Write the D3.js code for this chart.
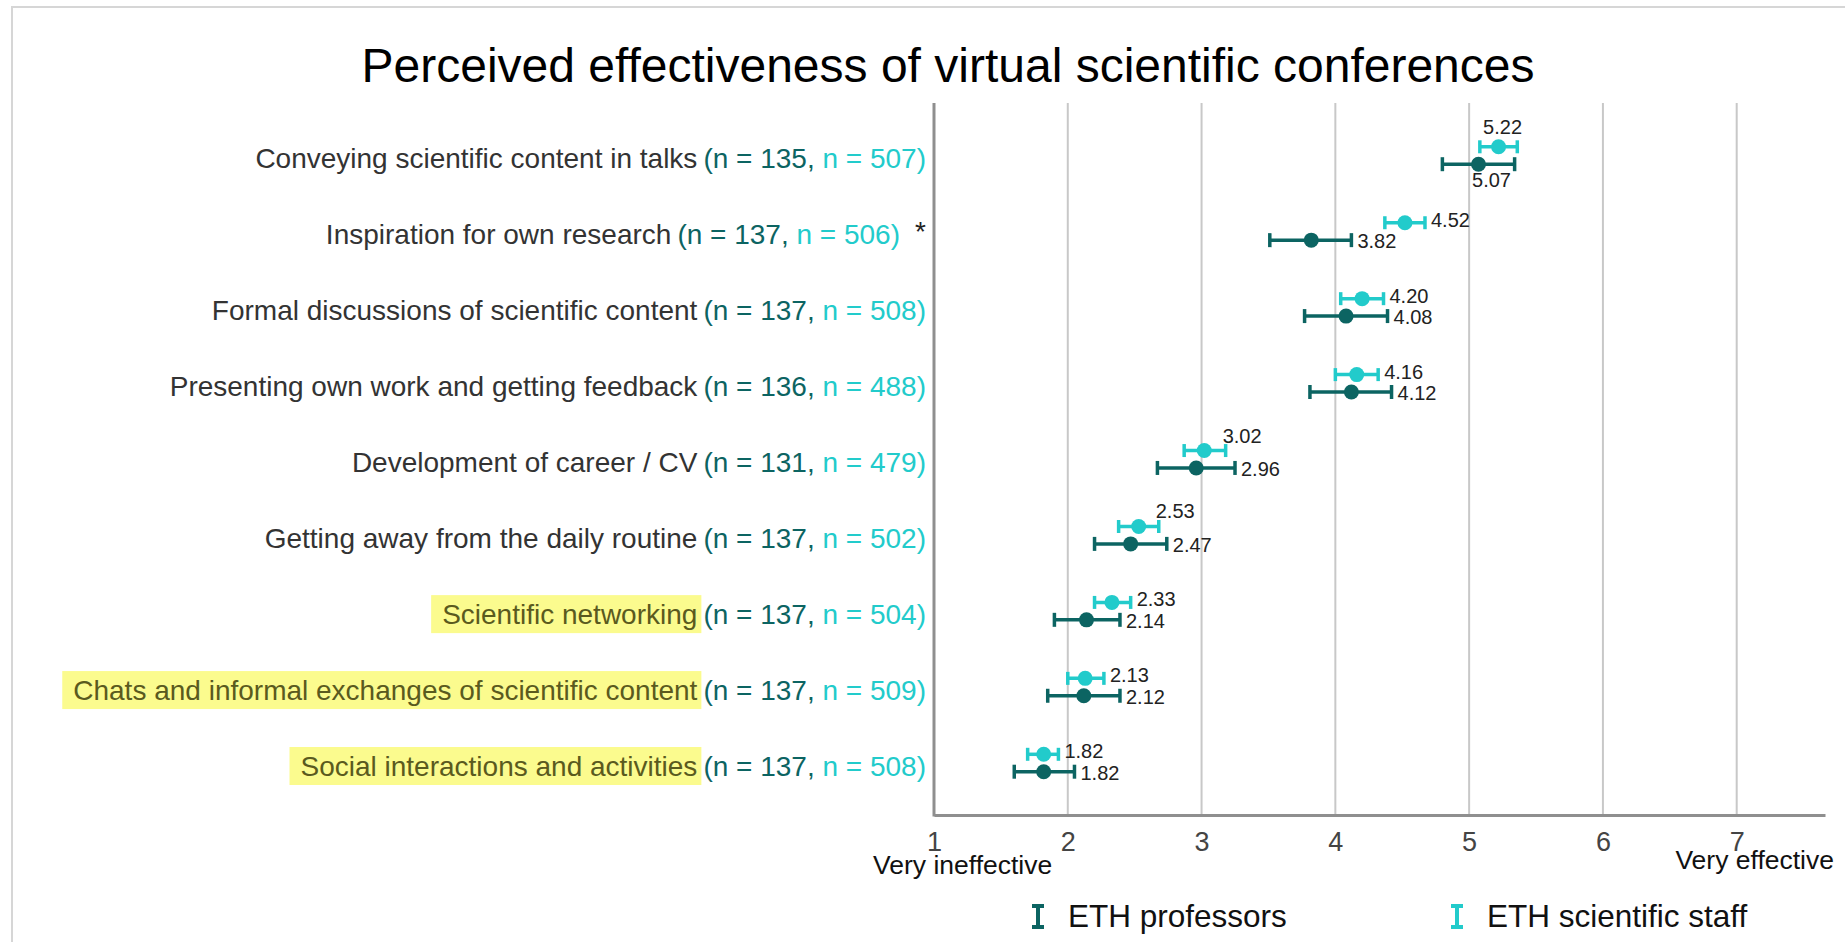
<!DOCTYPE html>
<html>
<head>
  <title>Perceived effectiveness of virtual scientific conferences</title>
  <script src="https://d3js.org/d3.v7.min.js"></script>
  <style>
    body { margin: 0; background: #fff; }
    text { font-family: "Liberation Sans", Arial, sans-serif; }
  </style>
</head>
<body>

<div id="chart"></div>

<script>
// Data
const categories = [
  "Conveying scientific content in talks",
  "Inspiration for own research",
  "Formal discussions of scientific content",
  "Presenting own work and getting feedback",
  "Development of career / CV",
  "Getting away from the daily routine",
  "Scientific networking",
  "Chats and informal exchanges of scientific content",
  "Social interactions and activities"
];
const nProf  = [135, 137, 137, 136, 131, 137, 137, 137, 137];
const nStaff = [507, 506, 508, 488, 479, 502, 504, 509, 508];
const significant = [false, true, false, false, false, false, false, false, false];
const highlighted = [false, false, false, false, false, false, true, true, true];

const profMean  = [5.07, 3.82, 4.08, 4.12, 2.96, 2.47, 2.14, 2.12, 1.82];
const profLow   = [4.80, 3.51, 3.77, 3.81, 2.67, 2.20, 1.90, 1.85, 1.60];
const profHigh  = [5.34, 4.12, 4.39, 4.42, 3.25, 2.74, 2.39, 2.39, 2.05];
const staffMean = [5.22, 4.52, 4.20, 4.16, 3.02, 2.53, 2.33, 2.13, 1.82];
const staffLow  = [5.08, 4.37, 4.04, 4.00, 2.87, 2.38, 2.20, 2.00, 1.70];
const staffHigh = [5.36, 4.67, 4.36, 4.32, 3.18, 2.68, 2.47, 2.27, 1.93];

const xTicks = [1, 2, 3, 4, 5, 6, 7];
const groups = ["ETH professors", "ETH scientific staff"];

// where each value label sits relative to its marker
const staffLabelPos = ["above", "right", "right", "right", "aboveRight", "aboveRight", "right", "right", "right"];
const profLabelPos  = ["below", "right", "right", "right", "right", "right", "right", "right", "right"];

const W = 1845, H = 942;
const profColor = "#0c6462", staffColor = "#22cbcb";

const svg = d3.select("#chart").append("svg")
  .attr("width", W).attr("height", H);

svg.append("rect").attr("width", W).attr("height", H).attr("fill", "#fff");

// outer frame (only top and left visible)
svg.append("path")
  .attr("d", "M12,945 V7 H1850")
  .attr("fill", "none").attr("stroke", "#d6d6d6").attr("stroke-width", 2);

svg.append("text")
  .attr("x", 948).attr("y", 82)
  .attr("text-anchor", "middle")
  .style("font-size", "48px").attr("fill", "#000")
  .text("Perceived effectiveness of virtual scientific conferences");

const x = d3.scaleLinear().domain([1, 7.66]).range([934, 1825]);
const y = d3.scalePoint().domain(categories).range([155.5, 763]);
const plotTop = 103, plotBottom = 815;
const off = 8.7;

// grid lines
svg.append("g").selectAll("line")
  .data(xTicks.slice(1))
  .join("line")
  .attr("x1", d => x(d)).attr("x2", d => x(d))
  .attr("y1", plotTop).attr("y2", plotBottom)
  .attr("stroke", "#c8c8c8").attr("stroke-width", 2);

// x axis
const xAxis = svg.append("g")
  .attr("transform", `translate(0,${plotBottom})`)
  .call(d3.axisBottom(x).tickValues(xTicks).tickSize(0).tickPadding(17).tickFormat(d3.format("d")));
xAxis.select(".domain").attr("stroke", "#8f8f8f").attr("stroke-width", 3);
xAxis.selectAll(".tick text")
  .style("font-size", "27px")
  .attr("fill", "#444")
  .style("font-family", "'Liberation Sans', Arial, sans-serif");

// y axis line
svg.append("line")
  .attr("x1", x(1)).attr("x2", x(1))
  .attr("y1", plotTop).attr("y2", plotBottom + 1.5)
  .attr("stroke", "#8f8f8f").attr("stroke-width", 3);

svg.append("text").attr("x", 873).attr("y", 874)
  .style("font-size", "26.5px").attr("fill", "#111").text("Very ineffective");
svg.append("text").attr("x", 1834).attr("y", 869)
  .attr("text-anchor", "end")
  .style("font-size", "26.5px").attr("fill", "#111").text("Very effective");

// category labels
const labelRight = 926;
const labelSize = "28px";
const labelG = svg.append("g");
categories.forEach((c, i) => {
  const cy = y(c) + 3;
  const endX = significant[i] ? labelRight - 26 : labelRight;
  if (significant[i]) {
    labelG.append("text").attr("x", labelRight).attr("y", cy - 3).attr("dy", "0.35em")
      .attr("text-anchor", "end").style("font-size", labelSize).attr("fill", "#222").text("*");
  }
  const nText = labelG.append("text")
    .attr("x", endX).attr("y", cy).attr("dy", "0.35em")
    .attr("text-anchor", "end").style("font-size", labelSize);
  nText.append("tspan").attr("fill", profColor).text(`(n = ${nProf[i]},`);
  nText.append("tspan").attr("fill", staffColor).text(` n = ${nStaff[i]})`);
  const nStart = endX - nText.node().getComputedTextLength();

  const hl = labelG.append("g");
  const cat = hl.append("text")
    .attr("x", nStart - 6).attr("y", cy).attr("dy", "0.35em")
    .attr("text-anchor", "end").style("font-size", labelSize)
    .attr("fill", highlighted[i] ? "#5a5a1e" : "#333")
    .text(c);
  if (highlighted[i]) {
    const w = cat.node().getComputedTextLength();
    hl.insert("rect", "text")
      .attr("x", nStart - 6 - w - 11).attr("y", cy - 19)
      .attr("width", w + 15).attr("height", 38)
      .attr("fill", "#fbfb8e");
  }
});

// error bars and means
function drawSeries(mean, low, high, color, dyRow, capH, sw, r) {
  const g = svg.append("g");
  categories.forEach((c, i) => {
    const cy = y(c) + dyRow;
    g.append("line").attr("x1", x(low[i])).attr("x2", x(high[i]))
      .attr("y1", cy).attr("y2", cy).attr("stroke", color).attr("stroke-width", sw);
    [low[i], high[i]].forEach(v => {
      g.append("line").attr("x1", x(v)).attr("x2", x(v))
        .attr("y1", cy - capH / 2).attr("y2", cy + capH / 2)
        .attr("stroke", color).attr("stroke-width", sw);
    });
    g.append("circle").attr("cx", x(mean[i])).attr("cy", cy).attr("r", r).attr("fill", color);
  });
}
drawSeries(profMean, profLow, profHigh, profColor, off, 14, 3.5, 7.5);
drawSeries(staffMean, staffLow, staffHigh, staffColor, -off, 13, 3.5, 7.5);

// value labels
function drawLabels(mean, high, pos, dyRow, dyRight) {
  categories.forEach((c, i) => {
    const cy = y(c) + dyRow;
    const t = svg.append("text").style("font-size", "20px").attr("fill", "#222")
      .text(mean[i].toFixed(2));
    if (pos[i] === "right") {
      t.attr("x", x(high[i]) + 6).attr("y", cy + dyRight).attr("dy", "0.35em");
    } else if (pos[i] === "above") {
      t.attr("x", x(mean[i]) + 4).attr("y", cy - 13).attr("text-anchor", "middle");
    } else if (pos[i] === "below") {
      t.attr("x", x(mean[i]) + 13).attr("y", cy + 23).attr("text-anchor", "middle");
    } else {
      t.attr("x", x(high[i]) - 3).attr("y", cy - 15).attr("dy", "0.35em");
    }
  });
}
drawLabels(staffMean, staffHigh, staffLabelPos, -off, -3);
drawLabels(profMean, profHigh, profLabelPos, off, 1);

// legend
const legendX = [1038, 1457];
const legendColors = [profColor, staffColor];
groups.forEach((gname, i) => {
  const lg = svg.append("g").attr("transform", `translate(${legendX[i]},916)`);
  lg.append("path")
    .attr("d", "M-6,-10 H6 M0,-10 V11 M-6,11 H6")
    .attr("stroke", legendColors[i]).attr("stroke-width", 4).attr("fill", "none");
  lg.append("text").attr("x", 30).attr("y", 11)
    .style("font-size", "31.5px").attr("fill", "#111").text(gname);
});
</script>

</body>
</html>
